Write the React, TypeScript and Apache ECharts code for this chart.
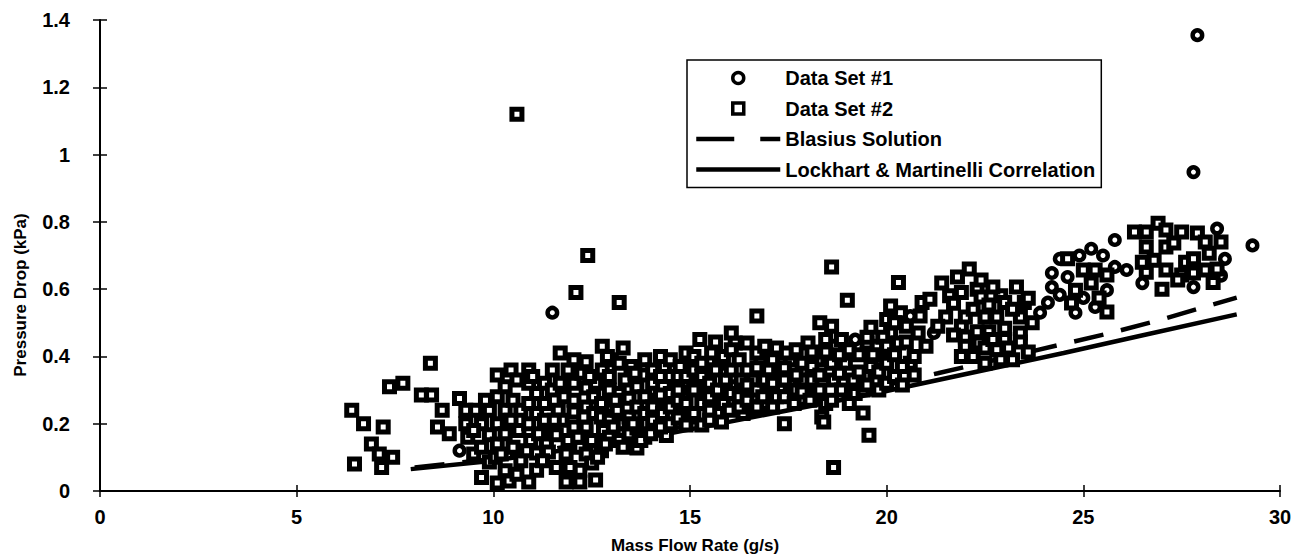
import React, { useEffect, useRef } from "react";
import * as echarts from "echarts";

const FONT = "'Liberation Sans', Arial, Helvetica, sans-serif";

const xTicks = { min: 0, max: 30, interval: 5 };
const yTicks = { min: 0, max: 1.4, interval: 0.2 };

const xName = "Mass Flow Rate (g/s)";
const yName = "Pressure Drop (kPa)";

const seriesNames = [
  "Data Set #1",
  "Data Set #2",
  "Blasius Solution",
  "Lockhart & Martinelli Correlation",
];

// Blasius solution (dashed)
const blasius: [number, number][] = [
  [8.0, 0.07], [10, 0.095], [17, 0.235], [21.3, 0.35], [25.7, 0.47], [27, 0.51], [28.9, 0.575],
];

// Lockhart & Martinelli correlation (solid)
const lockhart: [number, number][] = [
  [7.9, 0.065], [10, 0.09], [13.9, 0.158], [19.7, 0.29], [24.5, 0.41], [26.4, 0.46], [28.9, 0.525],
];

// Data Set #1 (circles)
const set1: [number, number][] = [
  [9.14, 0.12], [11.5, 0.53], [13.0, 0.25], [15.0, 0.3], [17.0, 0.3], [19.2, 0.45], [20.6, 0.52],
  [21.2, 0.47], [23.9, 0.53], [24.2, 0.606], [24.1, 0.56], [24.2, 0.648], [24.4, 0.69], [24.9, 0.70],
  [25.2, 0.72], [25.5, 0.70], [24.4, 0.583], [24.8, 0.53], [25.3, 0.547], [25.6, 0.597], [25.8, 0.666],
  [26.1, 0.657], [25.0, 0.574], [24.6, 0.636], [25.8, 0.746], [26.5, 0.618], [27.8, 0.606], [28.6, 0.69],
  [28.5, 0.64], [28.4, 0.78], [29.3, 0.73], [27.9, 1.355], [27.8, 0.948],
];

// Data Set #2 (squares), low flow group
const set2Sparse: [number, number][] = [
  [6.4, 0.24], [6.47, 0.08], [6.7, 0.2], [6.9, 0.14], [7.1, 0.11], [7.16, 0.07], [7.2, 0.19],
  [7.36, 0.31], [7.44, 0.1], [7.7, 0.32], [8.17, 0.285], [8.4, 0.38], [8.43, 0.285], [8.58, 0.19],
  [8.7, 0.24], [8.88, 0.17], [9.14, 0.275], [10.6, 1.12],
];

// Data Set #2, 9.3 - 14 g/s
const set2Cloud: [number, number][] = [
  [9.3, 0.24], [9.3, 0.2], [9.35, 0.16], [9.5, 0.11], [9.55, 0.24], [9.7, 0.04], [9.7, 0.13], [9.7, 0.2],
  [9.9, 0.086], [9.9, 0.24], [9.9, 0.167], [10.1, 0.024], [10.1, 0.14], [10.1, 0.345], [10.1, 0.28],
  [10.1, 0.2], [10.05, 0.1], [10.3, 0.24], [10.3, 0.17], [10.3, 0.31], [10.3, 0.06], [10.45, 0.36],
  [10.5, 0.13], [10.45, 0.21], [10.5, 0.27], [10.6, 0.33], [10.7, 0.09], [10.7, 0.24], [10.65, 0.18],
  [10.9, 0.027], [10.9, 0.36], [10.9, 0.32], [10.9, 0.2], [10.9, 0.26], [10.85, 0.12], [10.95, 0.15],
  [11.1, 0.062], [11.1, 0.113], [11.1, 0.23], [11.1, 0.29], [11.15, 0.17], [11.3, 0.21], [11.3, 0.32],
  [11.35, 0.14], [11.3, 0.26], [11.4, 0.116], [11.5, 0.18], [11.5, 0.3], [11.6, 0.167], [11.65, 0.24],
  [11.6, 0.07], [11.7, 0.32], [11.7, 0.41], [11.75, 0.21], [11.8, 0.28], [11.85, 0.027], [11.85, 0.11],
  [11.9, 0.36], [11.9, 0.15], [12.05, 0.32], [12.05, 0.39], [12.05, 0.235], [12.1, 0.59], [12.05, 0.19],
  [12.05, 0.27], [12.2, 0.027], [12.2, 0.062], [12.2, 0.13], [12.25, 0.35], [12.36, 0.11], [12.36, 0.25],
  [12.36, 0.306], [12.36, 0.384], [12.4, 0.70], [12.36, 0.19], [12.5, 0.083], [12.5, 0.15], [12.55, 0.23],
  [12.6, 0.033], [12.55, 0.28], [12.6, 0.32], [12.77, 0.43], [12.75, 0.22], [12.77, 0.36], [12.75, 0.26],
  [12.75, 0.12], [12.8, 0.18], [12.95, 0.21], [12.95, 0.3], [12.95, 0.16], [12.95, 0.34], [13.0, 0.39],
  [13.2, 0.56], [13.15, 0.24], [13.2, 0.29], [13.2, 0.38], [13.2, 0.15], [13.2, 0.2], [13.3, 0.425],
  [13.35, 0.33], [13.45, 0.276], [13.45, 0.22], [13.45, 0.17], [13.5, 0.37], [13.65, 0.128], [13.65, 0.187],
  [13.65, 0.25], [13.65, 0.31], [13.85, 0.28], [13.85, 0.345], [13.85, 0.23], [13.85, 0.16], [13.85, 0.39],
];

// Data Set #2, 14 - 19 g/s
const set2Mid: [number, number][] = [
  [14.05, 0.21], [14.05, 0.32], [14.05, 0.36], [14.05, 0.25], [14.0, 0.17], [14.25, 0.285], [14.25, 0.19],
  [14.25, 0.4], [14.3, 0.23], [14.25, 0.34], [14.5, 0.29], [14.5, 0.2], [14.5, 0.39], [14.5, 0.34],
  [14.5, 0.25], [14.7, 0.34], [14.7, 0.217], [14.7, 0.27], [14.7, 0.3], [14.75, 0.37], [14.9, 0.196],
  [14.9, 0.26], [14.9, 0.34], [14.9, 0.41], [15.1, 0.23], [15.1, 0.4], [15.1, 0.3], [15.1, 0.36],
  [15.25, 0.45], [15.3, 0.26], [15.3, 0.196], [15.3, 0.34], [15.3, 0.38], [15.5, 0.24], [15.5, 0.28],
  [15.5, 0.21], [15.5, 0.32], [15.55, 0.41], [15.65, 0.443], [15.65, 0.36], [15.7, 0.3], [15.8, 0.205],
  [15.85, 0.26], [15.85, 0.4], [15.9, 0.33], [16.05, 0.47], [16.0, 0.24], [16.05, 0.36], [16.05, 0.29],
  [16.05, 0.42], [16.25, 0.28], [16.25, 0.25], [16.25, 0.39], [16.3, 0.33], [16.45, 0.315], [16.45, 0.44],
  [16.45, 0.36], [16.45, 0.27], [16.7, 0.52], [16.7, 0.366], [16.7, 0.3], [16.7, 0.25], [16.7, 0.41],
  [16.85, 0.28], [16.9, 0.43], [16.9, 0.33], [17.1, 0.32], [17.1, 0.39], [17.1, 0.25], [17.2, 0.425],
  [17.2, 0.28], [17.4, 0.2], [17.4, 0.28], [17.4, 0.366], [17.4, 0.33], [17.45, 0.41], [17.7, 0.345],
  [17.7, 0.42], [17.7, 0.3], [17.65, 0.26], [17.85, 0.294], [17.85, 0.38], [18.1, 0.413], [18.1, 0.37],
  [18.1, 0.33], [18.05, 0.27], [18.3, 0.5], [18.3, 0.345], [18.3, 0.3], [18.35, 0.22], [18.45, 0.413],
  [18.4, 0.205], [18.45, 0.26], [18.45, 0.45], [18.6, 0.49], [18.6, 0.27], [18.6, 0.666], [18.65, 0.07],
  [18.6, 0.38], [18.65, 0.33], [18.8, 0.405], [18.85, 0.3], [18.85, 0.45], [18.8, 0.35], [19.0, 0.567],
  [19.05, 0.26], [19.05, 0.42],
];

// Data Set #2, further points inside the dense band
const set2Dense: [number, number][] = [
  [9.5, 0.18], [9.8, 0.27], [10.2, 0.11], [10.4, 0.03], [10.6, 0.05], [11.0, 0.34], [11.25, 0.09],
  [11.5, 0.36], [11.55, 0.21], [11.95, 0.07], [12.15, 0.16], [12.3, 0.22], [12.45, 0.34], [12.65, 0.1],
  [12.85, 0.14], [12.9, 0.4], [13.05, 0.19], [13.1, 0.27], [13.3, 0.13], [13.55, 0.2], [13.6, 0.35],
  [13.75, 0.15], [14.15, 0.27], [14.35, 0.37], [14.4, 0.165], [14.6, 0.31], [14.8, 0.24], [15.0, 0.22],
  [15.0, 0.38], [15.2, 0.32], [15.4, 0.36], [15.45, 0.3], [15.7, 0.23], [15.75, 0.38], [16.0, 0.27],
  [16.15, 0.31], [16.15, 0.44], [16.35, 0.23], [16.6, 0.28], [16.6, 0.33], [16.8, 0.39], [16.95, 0.26],
  [17.0, 0.36], [17.3, 0.3], [17.3, 0.35], [17.55, 0.32], [17.55, 0.39], [17.9, 0.33], [18.0, 0.44],
  [18.2, 0.29], [18.25, 0.39], [18.7, 0.43], [18.95, 0.38], [19.15, 0.33], [19.2, 0.29], [19.75, 0.43],
  [19.85, 0.39], [20.1, 0.47], [20.3, 0.44], [20.35, 0.53], [20.6, 0.38], [19.7, 0.33], [21.6, 0.58],
  [21.9, 0.49], [22.3, 0.6], [22.35, 0.44], [22.9, 0.58], [23.0, 0.45], [23.5, 0.56],
];

// Data Set #2, 19 - 24 g/s
const set2Upper: [number, number][] = [
  [19.3, 0.354], [19.3, 0.405], [19.4, 0.232], [19.4, 0.3], [19.5, 0.44], [19.55, 0.166], [19.5, 0.457],
  [19.5, 0.315], [19.6, 0.37], [19.6, 0.487], [19.65, 0.405], [19.8, 0.354], [19.8, 0.3], [19.9, 0.457],
  [20.0, 0.51], [20.0, 0.43], [20.0, 0.32], [20.0, 0.38], [20.1, 0.55], [20.2, 0.5], [20.2, 0.405],
  [20.2, 0.34], [20.3, 0.62], [20.4, 0.315], [20.4, 0.37], [20.5, 0.49], [20.5, 0.443], [20.7, 0.4],
  [20.7, 0.345], [20.8, 0.47], [20.9, 0.56], [20.85, 0.52], [21.0, 0.43],
  [21.1, 0.57], [21.4, 0.618], [21.5, 0.517], [21.7, 0.558], [21.7, 0.464], [21.8, 0.636], [21.9, 0.59],
  [22.0, 0.517], [22.0, 0.458], [22.0, 0.43], [22.1, 0.66], [22.2, 0.40], [22.3, 0.473], [22.4, 0.627],
  [22.4, 0.577], [22.5, 0.517], [22.5, 0.425], [22.5, 0.38], [22.6, 0.553], [22.6, 0.473], [22.7, 0.606],
  [22.8, 0.517], [22.8, 0.42], [23.0, 0.56], [23.0, 0.484], [23.1, 0.425], [23.3, 0.606], [23.4, 0.517],
  [23.4, 0.47], [23.4, 0.443], [23.6, 0.573], [23.6, 0.413], [21.3, 0.49], [22.2, 0.54], [23.2, 0.54],
  [23.7, 0.5], [22.7, 0.45], [21.9, 0.40], [22.9, 0.39], [23.2, 0.39],
];

// Data Set #2, 24 - 29 g/s
const set2Right: [number, number][] = [
  [24.6, 0.69], [25.3, 0.657], [25.0, 0.657], [24.8, 0.597], [25.2, 0.618], [24.7, 0.559], [25.4, 0.574],
  [25.6, 0.532], [25.6, 0.642], [26.3, 0.77], [26.6, 0.77], [26.9, 0.796], [27.1, 0.776], [27.5, 0.77],
  [27.9, 0.767], [28.5, 0.74], [28.2, 0.707], [28.4, 0.66], [26.6, 0.725], [27.1, 0.725], [27.3, 0.737],
  [26.8, 0.686], [27.6, 0.68], [27.8, 0.69], [26.6, 0.65], [27.1, 0.657], [27.5, 0.642], [27.8, 0.648],
  [28.1, 0.657], [27.4, 0.627], [26.5, 0.68], [28.1, 0.74], [28.3, 0.62], [27.0, 0.6],
];

const set2 = [...set2Sparse, ...set2Cloud, ...set2Dense, ...set2Mid, ...set2Upper, ...set2Right];

export default function App() {
  const ref = useRef<HTMLDivElement>(null);
  useEffect(() => {
    document.body.style.margin = "0";
    if (!ref.current) return;
    const chart = echarts.init(ref.current, undefined, { renderer: "svg" });
    const labelStyle = {
      color: "#000",
      fontSize: 20,
      fontWeight: "bold" as const,
      fontFamily: FONT,
    };
    const axisLine = { show: true, lineStyle: { color: "#000", width: 2 } };
    const tickStyle = { color: "#000", width: 1.5 };
    const markerStyle = { color: "#fff", borderColor: "#000", borderWidth: 5, opacity: 1 };
    chart.setOption({
      animation: false,
      backgroundColor: "#fff",
      grid: { left: 100, right: 22, top: 20, bottom: 65 },
      xAxis: [
        {
          type: "value",
          position: "bottom",
          ...xTicks,
          axisLine,
          axisTick: { show: true, length: 6, lineStyle: tickStyle },
          axisLabel: { ...labelStyle, margin: 16 },
          splitLine: { show: false },
        },
        {
          type: "value",
          position: "bottom",
          ...xTicks,
          axisLine: { show: false },
          axisTick: { show: true, inside: true, length: 6, lineStyle: tickStyle },
          axisLabel: { show: false },
          splitLine: { show: false },
        },
      ],
      yAxis: [
        {
          type: "value",
          position: "left",
          ...yTicks,
          axisLine,
          axisTick: { show: true, length: 7, lineStyle: tickStyle },
          axisLabel: {
            ...labelStyle,
            margin: 30,
            formatter: (v: number) => String(Math.round(v * 10) / 10),
          },
          splitLine: { show: false },
        },
        {
          type: "value",
          position: "left",
          ...yTicks,
          axisLine: { show: false },
          axisTick: { show: true, inside: true, length: 7, lineStyle: tickStyle },
          axisLabel: { show: false },
          splitLine: { show: false },
        },
      ],
      legend: {
        data: [
          {
            name: seriesNames[0],
            icon: "circle",
            itemStyle: { color: "#fff", borderColor: "#000", borderWidth: 3.5 },
          },
          {
            name: seriesNames[1],
            icon: "path://M0,0L10,0L10,10L0,10Z",
            itemStyle: { color: "#fff", borderColor: "#000", borderWidth: 3.5 },
          },
          {
            name: seriesNames[2],
            itemStyle: { opacity: 0 },
            lineStyle: { color: "#000", width: 4.5, type: [38, 26] },
          },
          {
            name: seriesNames[3],
            itemStyle: { opacity: 0 },
            lineStyle: { color: "#000", width: 4.5, type: "solid" },
          },
        ],
        orient: "vertical",
        left: 687,
        top: 60,
        itemWidth: 84,
        itemHeight: 11,
        itemGap: 10.5,
        padding: [8, 6, 8, 7],
        borderColor: "#000",
        borderWidth: 1.5,
        selectedMode: false,
        textStyle: {
          color: "#000",
          fontSize: 20,
          lineHeight: 20,
          fontWeight: "bold",
          fontFamily: FONT,
        },
      },
      graphic: [
        {
          type: "text",
          x: 20,
          y: 295,
          rotation: Math.PI / 2,
          style: {
            text: yName,
            fill: "#000",
            font: `bold 17px ${FONT}`,
            align: "center",
            verticalAlign: "middle",
          },
        },
        {
          type: "text",
          x: 695,
          y: 545,
          style: {
            text: xName,
            fill: "#000",
            font: `bold 17px ${FONT}`,
            align: "center",
            verticalAlign: "middle",
          },
        },
      ],
      series: [
        {
          name: seriesNames[2],
          type: "line",
          data: blasius,
          symbol: "none",
          showSymbol: false,
          lineStyle: { color: "#000", width: 4.5, type: [30, 18] },
          itemStyle: { color: "#000" },
          z: 1,
        },
        {
          name: seriesNames[3],
          type: "line",
          data: lockhart,
          symbol: "none",
          showSymbol: false,
          lineStyle: { color: "#000", width: 4.5 },
          itemStyle: { color: "#000" },
          z: 1,
        },
        {
          name: seriesNames[0],
          type: "scatter",
          data: set1,
          symbol: "circle",
          symbolSize: 9.5,
          itemStyle: { ...markerStyle, borderWidth: 4.5 },
          z: 2,
        },
        {
          name: seriesNames[1],
          type: "scatter",
          data: set2,
          symbol: "rect",
          symbolSize: 10,
          itemStyle: markerStyle,
          z: 3,
        },
      ],
    });
    return () => chart.dispose();
  }, []);
  return <div ref={ref} style={{ width: 1302, height: 556 }} />;
}
